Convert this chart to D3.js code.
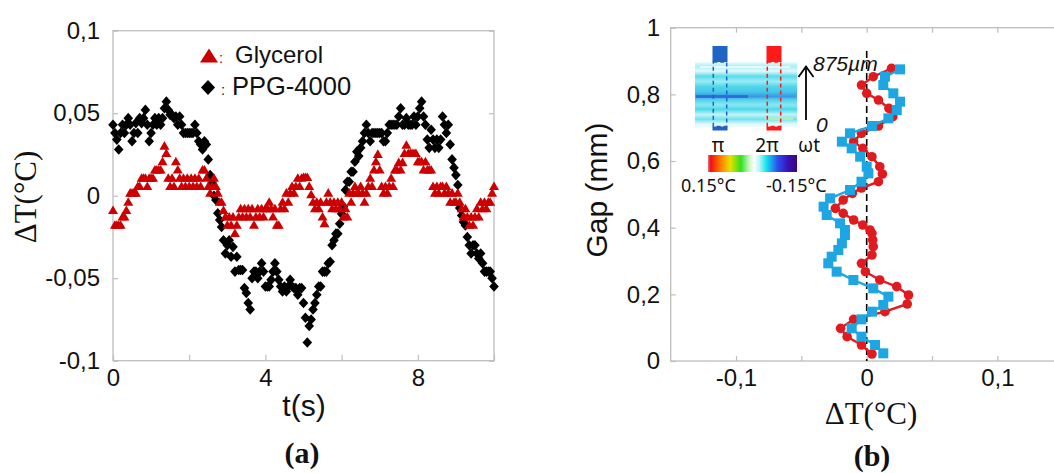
<!DOCTYPE html>
<html lang="en">
<head>
<meta charset="UTF-8">
<title>Temperature oscillations</title>
<style>
  body { margin: 0; background: #fff; overflow: hidden; }
  svg { display: block; }
  .tick text { font-family: Arial, "Liberation Sans", sans-serif; font-size: 24px; fill: #111; }
  .tick line { stroke: #bdbdbd; stroke-width: 1.2; }
  .frame { fill: none; stroke: #bdbdbd; stroke-width: 1.3; }
  .serif { font-family: "Times New Roman", "Liberation Serif", serif; fill: #111; }
  .sans { font-family: Arial, "Liberation Sans", sans-serif; fill: #111; }
  .inset { font-family: "Noto Sans", "Open Sans", sans-serif; fill: #111; }
</style>
</head>
<body>
<svg id="fig" width="1054" height="473"></svg>
<script src="https://d3js.org/d3.v7.min.js"></script>
<script>
// ---- panel (a): temperature vs time, sampled every tStep seconds ----
const tStep = 0.05;
const glycerol = [
  -0.009,-0.018,-0.018,-0.018,-0.018,-0.013,-0.013,-0.009,-0.004,0.0015,0.0015,0.0015,0.0015,0.0055,0.0055,0.0105,0.0105,0.0105,0.0055,0.0105,
  0.0105,0.0105,0.0155,0.0155,0.0155,0.0155,0.0205,0.030,0.0255,0.0105,0.0055,0.0105,0.0055,0.0205,0.0155,0.0105,0.0055,0.0105,0.0055,0.0105,
  0.0055,0.0105,0.0055,0.0105,0.0055,0.0105,0.0055,0.0155,0.0155,0.0105,0.0055,0.0015,0.0055,0.0105,0.0055,0.0015,-0.004,-0.004,-0.009,-0.013,
  -0.018,-0.013,-0.018,-0.013,-0.023,-0.018,-0.013,-0.008,-0.013,-0.008,-0.013,-0.008,-0.013,-0.008,-0.018,-0.013,-0.008,-0.013,-0.008,-0.013,
  -0.008,-0.008,-0.004,-0.008,-0.013,-0.008,-0.018,-0.018,-0.008,-0.004,-0.008,0.0015,-0.004,0.0015,0.0055,0.0015,0.0055,0.0105,0.0055,0.0105,
  0.011,0.011,0.011,0.0055,0.0005,-0.004,-0.008,-0.004,-0.008,-0.004,-0.013,-0.017,-0.004,0.0015,-0.004,-0.008,-0.004,-0.008,-0.004,-0.008,
  -0.004,-0.013,-0.008,-0.013,0.0015,-0.004,0.0015,0.0055,0.0015,0.0015,0.0055,0.0015,-0.004,0.0015,0.0055,0.0105,0.0055,0.0155,0.0205,0.025,
  0.0155,0.0055,0.0015,0.0055,0.0015,0.0055,0.0105,0.0055,0.0155,0.0155,0.020,0.0155,0.020,0.0255,0.0305,0.0255,0.0255,0.0255,0.0255,0.0255,
  0.0205,0.0205,0.0205,0.0155,0.0205,0.0155,0.0155,0.0155,0.0055,0.0015,0.0055,0.0015,0.0055,0.0055,0.0015,0.0055,0.0015,-0.004,0.0015,-0.004,
  -0.004,0.0015,-0.004,-0.008,-0.013,-0.008,-0.013,-0.018,-0.013,-0.018,-0.013,-0.008,-0.013,-0.004,-0.008,-0.004,-0.008,-0.004,-0.004,0.0015,
  0.0055
];
const ppg4000 = [
  0.043,0.038,0.034,0.028,0.038,0.043,0.038,0.043,0.047,0.043,0.033,0.038,0.044,0.038,0.047,0.044,0.047,0.052,0.043,0.033,
  0.038,0.043,0.047,0.043,0.047,0.043,0.047,0.053,0.057,0.052,0.049,0.049,0.047,0.048,0.043,0.048,0.043,0.038,0.038,0.038,
  0.038,0.038,0.038,0.043,0.038,0.033,0.031,0.028,0.033,0.031,0.022,0.0125,0.0077,0.0,-0.0026,-0.0106,-0.0147,-0.019,-0.027,-0.035,
  -0.030,-0.027,-0.037,-0.031,-0.046,-0.037,-0.045,-0.045,-0.045,-0.056,-0.059,-0.065,-0.069,-0.050,-0.046,-0.046,-0.050,-0.046,-0.041,-0.046,
  -0.055,-0.055,-0.055,-0.051,-0.046,-0.041,-0.046,-0.051,-0.055,-0.058,-0.055,-0.058,-0.055,-0.051,-0.055,-0.056,-0.056,-0.060,-0.056,-0.056,
  -0.065,-0.074,-0.089,-0.079,-0.075,-0.069,-0.065,-0.060,-0.055,-0.055,-0.046,-0.046,-0.046,-0.041,-0.040,-0.030,-0.027,-0.023,-0.023,-0.017,
  -0.011,-0.0066,0.0035,0.0085,0.0085,0.0145,0.0145,0.0206,0.0267,0.024,0.029,0.033,0.038,0.043,0.038,0.033,0.038,0.038,0.038,0.038,
  0.038,0.038,0.033,0.033,0.038,0.043,0.043,0.043,0.043,0.043,0.048,0.053,0.043,0.043,0.047,0.043,0.043,0.043,0.048,0.043,
  0.048,0.053,0.057,0.048,0.043,0.034,0.029,0.040,0.034,0.029,0.034,0.029,0.034,0.048,0.043,0.038,0.043,0.031,0.022,0.017,
  0.0125,0.0065,-0.0075,-0.012,-0.016,-0.018,-0.025,-0.030,-0.035,-0.030,-0.030,-0.035,-0.038,-0.035,-0.041,-0.046,-0.046,-0.046,-0.046,-0.050,
  -0.055
];
const xTicksA = [0, 2, 4, 6, 8, 10];
const xLabelsA = [0, 4, 8];
const yTicksA = [-0.1, -0.05, 0, 0.05, 0.1];
const legendA = ["Glycerol", "PPG-4000"];

// ---- panel (b): temperature profile across the gap ----
const gapRed = [.878,.853,.828,.803,.783,.758,.733,.705,.683,.658,.638,.613,.583,.561,.538,.519,.503,.483,.458,.443,
  .423,.408,.393,.383,.363,.343,.318,.293,.268,.243,.223,.198,.171,.148,.125,.098,.073,.048,.021];
const dtRed = [.019,.005,-.004,0,.009,.017,.020,.009,-.004,-.010,-.003,.004,.010,.012,.009,-.004,-.011,-.018,-.024,-.018,
  -.010,-.003,.0025,.004,.0046,.005,.004,-.004,-.001,.010,.023,.032,.031,.014,-.010,-.020,-.015,-.004,.004];
const gapBlue = [.875,.853,.828,.803,.778,.753,.728,.705,.683,.658,.638,.613,.583,.563,.538,.513,.488,.463,.438,
  .413,.393,.378,.353,.333,.313,.293,.268,.243,.218,.193,.168,.148,.125,.098,.073,.048,.023];
const dtBlue = [.0255,.014,.0127,.0204,.0255,.023,.0166,.004,-.0128,-.019,-.0115,-.005,0,.0013,-.004,-.0128,-.028,-.033,-.0306,
  -.0204,-.0166,-.0166,-.019,-.0217,-.0268,-.0294,-.023,-.0102,.005,.0166,.0127,.004,-.004,-.0115,-.004,.0064,.0127];
const xTicksB = [-0.1, -0.05, 0, 0.05, 0.1];
const xLabelsB = [-0.1, 0, 0.1];
const yTicksB = [0, 0.2, 0.4, 0.6, 0.8, 1];

// inset colour bar (0.15°C -> -0.15°C)
const barStops = [
  [0, "#e07090"], [0.03, "#ee1010"], [0.14, "#ff7a00"], [0.25, "#e8e000"], [0.37, "#30e020"],
  [0.46, "#c8f5c0"], [0.52, "#ffffff"], [0.58, "#b0f6f6"], [0.66, "#10e0ee"], [0.78, "#2a50f0"],
  [0.9, "#3a10b8"], [1, "#3c0878"]
];
const mapStops = [
  [0, "#eefbfd"], [0.07, "#a8eef5"], [0.14, "#e4f9fb"], [0.22, "#5adcec"], [0.3, "#9cecf3"],
  [0.38, "#4fd6ea"], [0.46, "#46c6ea"], [0.53, "#3a98e2"], [0.58, "#52d2ec"], [0.66, "#8ae8f2"],
  [0.73, "#4cdaec"], [0.81, "#c4f4f8"], [0.88, "#6ee2ee"], [0.95, "#dcf8fa"], [1, "#f2fcfd"]
];

const comma = v => String(v).replace(".", ",");
const svg = d3.select("#fig");
const defs = svg.append("defs");

// custom marker shapes
const triangle = (hw, h) => ({ draw(ctx) {
  ctx.moveTo(0, -h * 0.6); ctx.lineTo(hw, h * 0.4); ctx.lineTo(-hw, h * 0.4); ctx.closePath();
}});
const diamond = (hw, hh) => ({ draw(ctx) {
  ctx.moveTo(0, -hh); ctx.lineTo(hw, 0); ctx.lineTo(0, hh); ctx.lineTo(-hw, 0); ctx.closePath();
}});

// ================= panel (a) =================
const xA = d3.scaleLinear().domain([0, 10]).range([113, 494]);
const yA = d3.scaleLinear().domain([-0.1, 0.1]).range([360.7, 30.7]);

svg.append("rect").attr("class", "frame")
  .attr("x", xA(0)).attr("y", yA(0.1))
  .attr("width", xA(10) - xA(0)).attr("height", yA(-0.1) - yA(0.1));

const axA = svg.append("g").attr("transform", `translate(0,${yA(-0.1)})`)
  .call(d3.axisBottom(xA).tickValues(xTicksA).tickSize(-6).tickPadding(8)
    .tickFormat(d => xLabelsA.includes(d) ? d : ""));
const ayA = svg.append("g").attr("transform", `translate(${xA(0)},0)`)
  .call(d3.axisLeft(yA).tickValues(yTicksA).tickSize(-5).tickPadding(13).tickFormat(comma));
const ayA2 = svg.append("g").attr("transform", `translate(${xA(10)},0)`)
  .call(d3.axisRight(yA).tickValues(yTicksA).tickSize(-5).tickFormat(""));
[axA, ayA, ayA2].forEach(g => g.select(".domain").remove());

const ppgPts = ppg4000.map((v, i) => ({ t: i * tStep, v }));
const glyPts = glycerol.map((v, i) => ({ t: i * tStep, v }));

svg.append("g").selectAll("path").data(ppgPts).join("path")
  .attr("d", d3.symbol().type(diamond(4.8, 5.3)))
  .attr("transform", d => `translate(${xA(d.t)},${yA(d.v)})`)
  .attr("fill", "#000");
svg.append("g").selectAll("path").data(glyPts).join("path")
  .attr("d", d3.symbol().type(triangle(5, 8.6)))
  .attr("transform", d => `translate(${xA(d.t)},${yA(d.v)})`)
  .attr("fill", "#cc0000");

// legend
const leg = svg.append("g");
leg.append("path").attr("d", d3.symbol().type(triangle(9, 14))())
  .attr("transform", "translate(209,57)").attr("fill", "#cc0000");
leg.append("text").attr("x", 219).attr("y", 63)
  .attr("class", "sans").style("fill", "#cc0000").style("font-size", "15px").text(":");
leg.append("text").attr("x", 235).attr("y", 63).attr("class", "sans")
  .style("font-size", "24px").text(legendA[0]);
leg.append("path").attr("d", d3.symbol().type(diamond(7, 7.5))())
  .attr("transform", "translate(208,87.5)").attr("fill", "#000");
leg.append("text").attr("x", 221).attr("y", 95).attr("class", "sans")
  .style("font-size", "15px").text(":");
leg.append("text").attr("x", 232).attr("y", 95).attr("class", "sans")
  .style("font-size", "25.5px").text(legendA[1]);

// titles
svg.append("text").attr("class", "serif").attr("text-anchor", "middle")
  .attr("transform", "translate(36,197) rotate(-90)").style("font-size", "31px").text("ΔT(°C)");
svg.append("text").attr("class", "sans").attr("text-anchor", "middle")
  .attr("x", 304).attr("y", 416).style("font-size", "30px").text("t(s)");
svg.append("text").attr("class", "serif").attr("text-anchor", "middle")
  .attr("x", 302).attr("y", 463).style("font-size", "30px").style("font-weight", "bold").text("(a)");

// ================= panel (b) =================
const xB = d3.scaleLinear().domain([-0.15, 0.15]).range([670.7, 1062.7]);
const yB = d3.scaleLinear().domain([0, 1]).range([361, 27.7]);

svg.append("rect").attr("class", "frame")
  .attr("x", xB(-0.15)).attr("y", yB(1))
  .attr("width", xB(0.15) - xB(-0.15)).attr("height", yB(0) - yB(1));

const axB = svg.append("g").attr("transform", `translate(0,${yB(0)})`)
  .call(d3.axisBottom(xB).tickValues(xTicksB).tickSize(-5).tickPadding(8)
    .tickFormat(d => xLabelsB.includes(d) ? comma(d) : ""));
const axB2 = svg.append("g").attr("transform", `translate(0,${yB(1)})`)
  .call(d3.axisTop(xB).tickValues(xTicksB).tickSize(-5).tickFormat(""));
const ayB = svg.append("g").attr("transform", `translate(${xB(-0.15)},0)`)
  .call(d3.axisLeft(yB).tickValues(yTicksB).tickSize(-5).tickPadding(10.5).tickFormat(comma));
[axB, axB2, ayB].forEach(g => g.select(".domain").remove());

// zero line
svg.append("line")
  .attr("x1", xB(0)).attr("x2", xB(0)).attr("y1", yB(0.93)).attr("y2", yB(0))
  .attr("stroke", "#000").attr("stroke-width", 1.6).attr("stroke-dasharray", "7,4");

const redPts = gapRed.map((g, i) => ({ g, v: dtRed[i] }));
const bluePts = gapBlue.map((g, i) => ({ g, v: dtBlue[i] }));
const profile = d3.line().x(d => xB(d.v)).y(d => yB(d.g));

svg.append("path").datum(redPts).attr("d", profile)
  .attr("fill", "none").attr("stroke", "#e01b20").attr("stroke-width", 2.4);
svg.append("g").selectAll("circle").data(redPts).join("circle")
  .attr("cx", d => xB(d.v)).attr("cy", d => yB(d.g)).attr("r", 4.8).attr("fill", "#e01b20");
svg.append("path").datum(bluePts).attr("d", profile)
  .attr("fill", "none").attr("stroke", "#1ea6e2").attr("stroke-width", 2.4);
svg.append("g").selectAll("rect").data(bluePts).join("rect")
  .attr("x", d => xB(d.v) - 5).attr("y", d => yB(d.g) - 5)
  .attr("width", 10).attr("height", 10).attr("fill", "#1ea6e2");

// titles
svg.append("text").attr("class", "sans").attr("text-anchor", "middle")
  .attr("transform", "translate(607,190) rotate(-90)").style("font-size", "30px").text("Gap (mm)");
svg.append("text").attr("class", "serif").attr("text-anchor", "middle")
  .attr("x", 871).attr("y", 424).style("font-size", "31px").text("ΔT(°C)");
svg.append("text").attr("class", "serif").attr("text-anchor", "middle")
  .attr("x", 872).attr("y", 466).style("font-size", "30px").style("font-weight", "bold").text("(b)");

// ---- inset: phase map + colour bar ----
const mapGrad = defs.append("linearGradient").attr("id", "mapGrad")
  .attr("x1", 0).attr("y1", 0).attr("x2", 0).attr("y2", 1);
mapGrad.selectAll("stop").data(mapStops).join("stop")
  .attr("offset", d => d[0]).attr("stop-color", d => d[1]);
const barGrad = defs.append("linearGradient").attr("id", "barGrad");
barGrad.selectAll("stop").data(barStops).join("stop")
  .attr("offset", d => d[0]).attr("stop-color", d => d[1]);

const inset = svg.append("g");
inset.append("rect").attr("x", 695).attr("y", 62).attr("width", 102).attr("height", 65)
  .attr("fill", "url(#mapGrad)");
inset.append("rect").attr("x", 696).attr("y", 95).attr("width", 52).attr("height", 3)
  .attr("fill", "#2a5fd8").attr("opacity", 0.75);
inset.append("rect").attr("x", 700).attr("y", 66).attr("width", 90).attr("height", 2)
  .attr("fill", "#ffffff").attr("opacity", 0.7);
inset.append("rect").attr("x", 765).attr("y", 117).attr("width", 28).attr("height", 3)
  .attr("fill", "#b8f0a8").attr("opacity", 0.9);

// blue (pi) and red (2pi) markers
[[712.5, "#1f63c4"], [766.5, "#ff1a1a"]].forEach(([x0, c]) => {
  inset.append("rect").attr("x", x0).attr("y", 46).attr("width", 15).attr("height", 16).attr("fill", c);
  inset.append("rect").attr("x", x0).attr("y", 126.5).attr("width", 15).attr("height", 4).attr("fill", c);
  inset.append("rect").attr("x", x0 + 0.8).attr("y", 62).attr("width", 13.4).attr("height", 64.5)
    .attr("fill", "none").attr("stroke", c).attr("stroke-width", 1.5).attr("stroke-dasharray", "4,3");
});

// arrow
inset.append("line").attr("x1", 806).attr("x2", 806).attr("y1", 120).attr("y2", 67)
  .attr("stroke", "#000").attr("stroke-width", 1.8);
inset.append("path").attr("d", "M798.5,77 L806,66.5 L813.5,77")
  .attr("fill", "none").attr("stroke", "#000").attr("stroke-width", 1.8);
inset.append("text").attr("class", "sans").attr("x", 813).attr("y", 71)
  .style("font-size", "21px").style("font-style", "italic").text("875µm");
inset.append("text").attr("class", "sans").attr("x", 816).attr("y", 131.5)
  .style("font-size", "21px").style("font-style", "italic").text("0");

inset.append("text").attr("class", "inset").attr("text-anchor", "middle")
  .attr("x", 718).attr("y", 152).style("font-size", "19px").text("π");
inset.append("text").attr("class", "inset").attr("text-anchor", "middle")
  .attr("x", 767).attr("y", 152).style("font-size", "19px").text("2π");
inset.append("text").attr("class", "inset").attr("text-anchor", "middle")
  .attr("x", 809).attr("y", 152).style("font-size", "19px").text("ωt");

inset.append("rect").attr("x", 708).attr("y", 155).attr("width", 89).attr("height", 17)
  .attr("fill", "url(#barGrad)");
inset.append("text").attr("class", "inset").attr("x", 681).attr("y", 192)
  .style("font-size", "18px").text("0.15°C");
inset.append("text").attr("class", "inset").attr("x", 766).attr("y", 192)
  .style("font-size", "18px").text("-0.15°C");
</script>
</body>
</html>
